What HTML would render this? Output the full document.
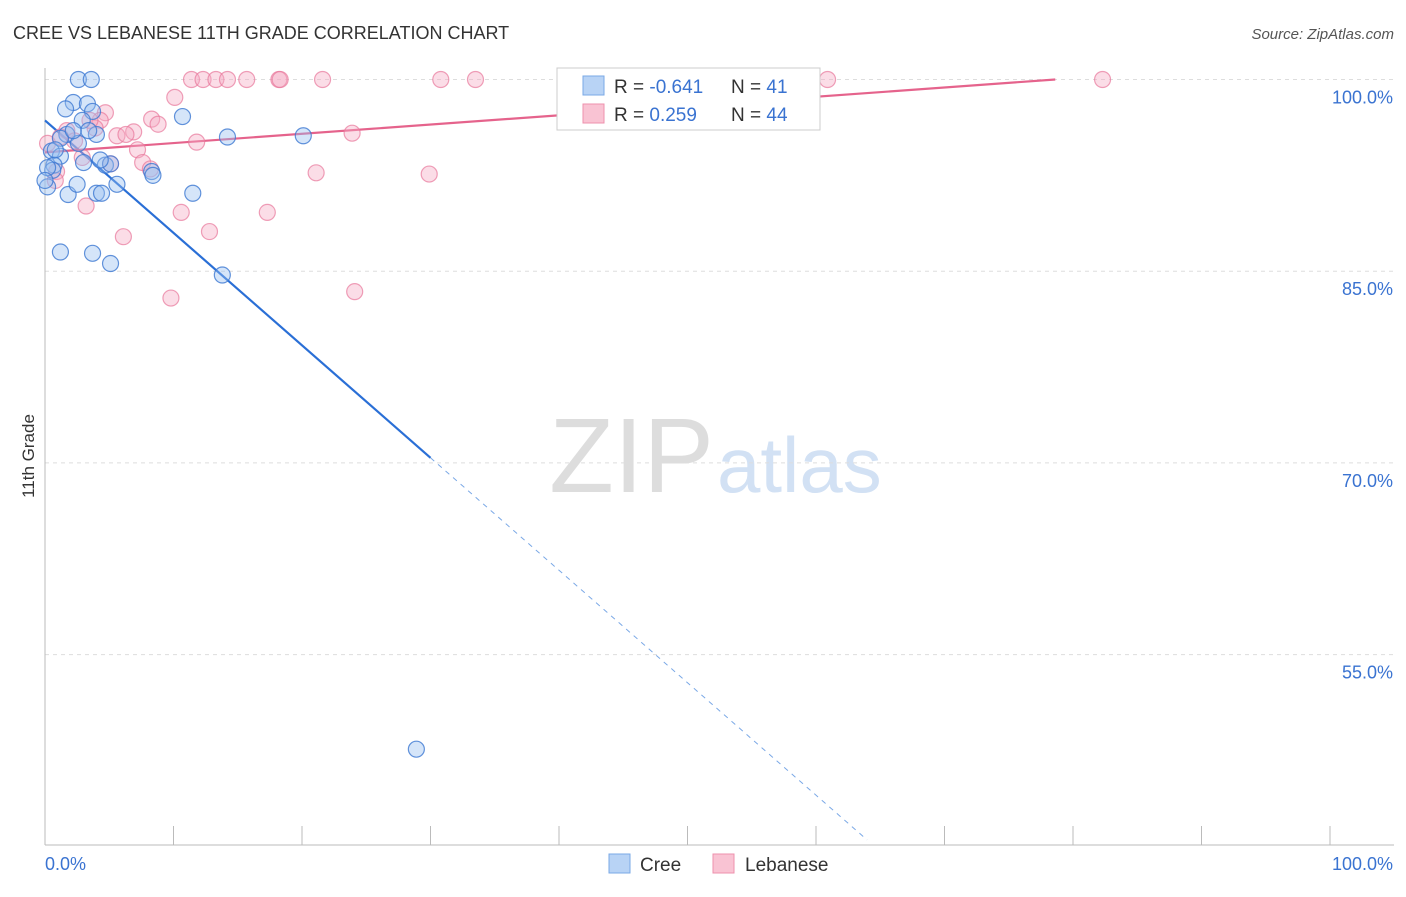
<!DOCTYPE html>
<html><head><meta charset="utf-8"><style>
body{margin:0;background:#fff;font-family:"Liberation Sans",sans-serif;}
svg text{font-family:"Liberation Sans",sans-serif;}
</style></head><body>
<svg id="chart" width="1406" height="892">
<text x="13" y="39" font-size="18" fill="#333">CREE VS LEBANESE 11TH GRADE CORRELATION CHART</text>
<text x="1394" y="39" font-size="15" fill="#555" font-style="italic" text-anchor="end">Source: ZipAtlas.com</text>
<text x="34" y="456" font-size="17" fill="#333" transform="rotate(-90 34 456)" text-anchor="middle">11th Grade</text>
<text x="714" y="492" font-size="106" fill="#ddd" text-anchor="end" font-family="Liberation Serif">ZIP</text>
<text x="717" y="492" font-size="78" fill="#d2e1f4">atlas</text>
<g id="grid"></g><g id="axes"></g><g id="lines"></g><g id="pts"></g>
<g>
<rect x="557" y="68" width="263" height="62" fill="#fff" stroke="#ccc"/>
<rect x="583" y="76" width="21" height="19" fill="#b8d3f5" stroke="#7aa8e6"/>
<rect x="583" y="104" width="21" height="19" fill="#f9c3d3" stroke="#ee90ad"/>
<text x="614" y="93" font-size="19" fill="#333">R = <tspan fill="#3a73d1">-0.641</tspan></text>
<text x="731" y="93" font-size="19" fill="#333">N = <tspan fill="#3a73d1"> 41</tspan></text>
<text x="614" y="121" font-size="19" fill="#333">R = <tspan fill="#3a73d1"> 0.259</tspan></text>
<text x="731" y="121" font-size="19" fill="#333">N = <tspan fill="#3a73d1">44</tspan></text>
</g>
<g>
<rect x="609" y="854" width="21" height="19" fill="#b8d3f5" stroke="#7aa8e6"/>
<text x="640" y="871" font-size="19" fill="#333">Cree</text>
<rect x="713" y="854" width="21" height="19" fill="#f9c3d3" stroke="#ee90ad"/>
<text x="745" y="871" font-size="19" fill="#333">Lebanese</text>
</g>
</svg>
<script>
const yTicks=[100,85,70,55];
const xTickLabels=["0.0%","100.0%"];
const creeX=[2.6,3.6,2.2,3.3,1.6,3.7,2.9,10.7,14.2,20.1,4.0,1.7,1.2,2.6,3.4,0.5,1.2,0.7,0.6,3.0,4.7,5.1,0.2,1.8,4.0,4.4,5.6,2.5,8.3,8.4,11.5,1.2,3.7,5.1,13.8,28.9,0.8,0.2,2.2,4.3,0.0];
const creeY=[100,100,98.2,98.1,97.7,97.5,96.8,97.1,95.5,95.6,95.7,95.7,95.4,95.0,96.0,94.4,94.0,93.3,92.9,93.5,93.3,93.4,91.6,91.0,91.1,91.1,91.8,91.8,92.8,92.5,91.1,86.5,86.4,85.6,84.7,47.6,94.5,93.1,96.0,93.7,92.1];
const lebX=[11.4,12.3,13.3,14.2,15.7,18.2,18.3,21.6,30.8,33.5,60.9,82.3,10.1,4.7,8.3,8.8,4.3,3.9,6.9,5.6,6.3,23.9,11.8,7.2,7.6,8.2,21.1,29.9,2.9,0.9,0.2,3.2,10.6,17.3,12.8,6.1,9.8,24.1,1.7,1.2,3.5,0.8,5.1,2.3];
const lebY=[100,100,100,100,100,100,100,100,100,100,100,100,98.6,97.4,96.9,96.5,96.8,96.2,95.9,95.6,95.7,95.8,95.1,94.5,93.5,93.0,92.7,92.6,93.9,92.8,95.0,90.1,89.6,89.6,88.1,87.7,82.9,83.4,96.0,95.5,96.8,92.1,93.4,95.2];
const creeLine=[96.8,-0.88];
const lebLine=[94.3,0.0725];
const NS="http://www.w3.org/2000/svg";
const X=v=>45+v*12.85, Y=v=>79.5+(100-v)*12.78;
function mk(t,a,p){const e=document.createElementNS(NS,t);for(const k in a)e.setAttribute(k,a[k]);document.getElementById(p).appendChild(e);return e;}
yTicks.forEach(t=>{
 const g=mk('line',{x1:45,x2:1394,y1:Y(t),y2:Y(t),stroke:'#ddd','stroke-dasharray':'4,4'},'grid');
 
 
 const l=mk('text',{x:1393,y:Y(t)+24,'font-size':18,fill:'#3a73d1','text-anchor':'end'},'grid');
 l.textContent=t.toFixed(1)+'%';
 
 
});
mk('line',{x1:45,x2:45,y1:68,y2:845,stroke:'#bbb'},'axes');
mk('line',{x1:45,x2:1394,y1:845,y2:845,stroke:'#bbb'},'axes');
for(let i=1;i<=10;i++){const t=mk('line',{x1:45+i*128.5,x2:45+i*128.5,y1:826,y2:845,stroke:'#bbb'},'axes');
 
 }
const a=mk('text',{x:45,y:870,'font-size':18,fill:'#3a73d1'},'axes');a.textContent=xTickLabels[0];


const b=mk('text',{x:1393,y:870,'font-size':18,fill:'#3a73d1','text-anchor':'end'},'axes');b.textContent=xTickLabels[1];


function pts(xs,ys,f,s,n){xs.forEach((x,i)=>{const c=mk('circle',{cx:X(x),cy:Y(ys[i]),r:8,fill:f,stroke:s,'stroke-width':1.2},'pts');
 
 });}
pts(lebX,lebY,'rgba(246,170,195,0.4)','rgba(232,120,155,0.7)','lebanese-point');
pts(creeX,creeY,'rgba(150,190,240,0.4)','rgba(60,120,210,0.8)','cree-point');
const cf=x=>creeLine[0]+creeLine[1]*x;
const l1=mk('line',{x1:X(0),y1:Y(cf(0)),x2:X(30),y2:Y(cf(30)),stroke:'#2a6fd6','stroke-width':2.2},'lines');


const xe=(40.5-creeLine[0])/creeLine[1];
const l2=mk('line',{x1:X(30),y1:Y(cf(30)),x2:X(xe),y2:Y(40.5),stroke:'#7aa8e6','stroke-width':1,'stroke-dasharray':'5,5'},'lines');


const lf=x=>lebLine[0]+lebLine[1]*x;
const xl=(100-lebLine[0])/lebLine[1];
const l3=mk('line',{x1:X(0),y1:Y(lf(0)),x2:X(xl),y2:Y(100),stroke:'#e5638c','stroke-width':2.2},'lines');


</script>
</body></html>
